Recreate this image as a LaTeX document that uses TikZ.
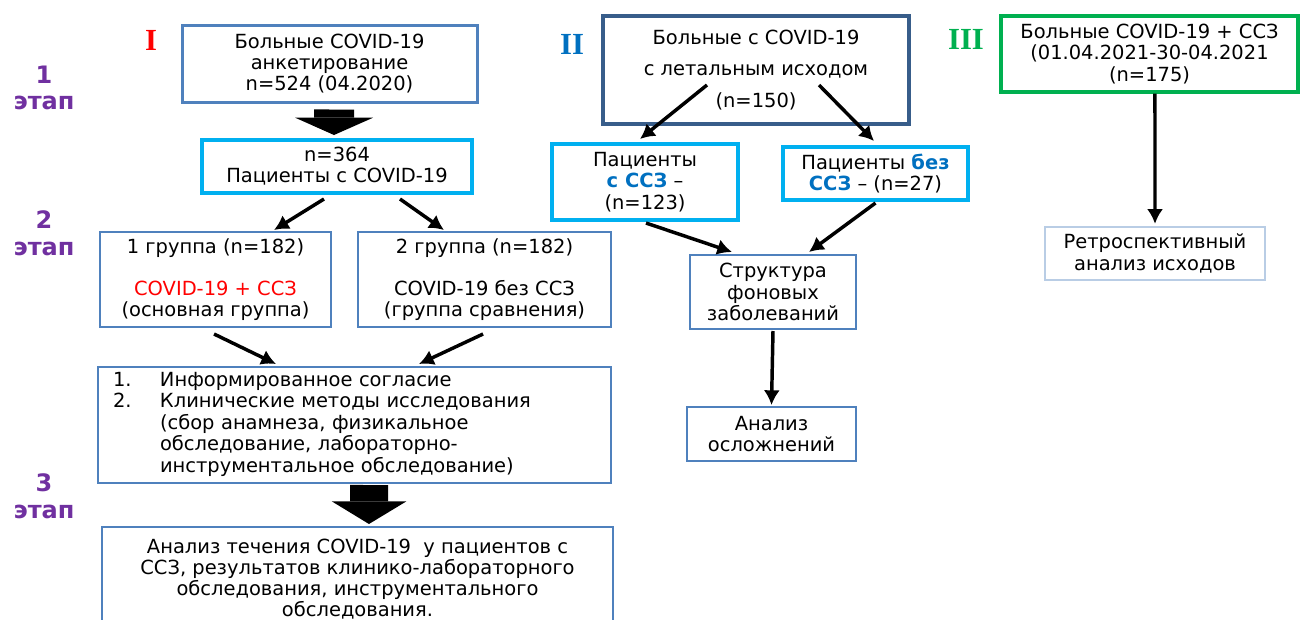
\documentclass[tikz,border=0pt]{standalone}
\usepackage{fontspec}
\setmainfont{DejaVu Sans}
\newfontfamily\romfont{Liberation Serif}
\usetikzlibrary{arrows.meta}
\definecolor{frameblue}{HTML}{4F81BD}
\definecolor{cyanframe}{HTML}{00B0F0}
\definecolor{slateframe}{HTML}{385D8A}
\definecolor{greenframe}{HTML}{00B050}
\definecolor{paleframe}{HTML}{B9CDE5}
\definecolor{textred}{HTML}{FF0000}
\definecolor{textblue}{HTML}{0070C0}
\definecolor{stagepurple}{HTML}{7030A0}
\newcommand\boxfont{\fontsize{14.6}{15.9}\selectfont}

\begin{document}
\begin{tikzpicture}[x=0.75pt,y=-0.75pt,
  box/.style={draw=frameblue, line width=1.5pt, align=center, inner sep=0pt, font=\boxfont},
  cyanbox/.style={box, draw=cyanframe, line width=3pt},
  arr/.style={line width=2.6pt, -{Latex[length=11pt,width=12pt]}},
  bigarr/.style={line width=30pt, -{Triangle[width=58.5pt,length=13pt,line width=0pt]}},
  stage/.style={align=center, text=stagepurple, font=\fontsize{18}{20}\selectfont\bfseries},
  roman/.style={font=\romfont\fontsize{23}{26}\selectfont\bfseries}]
\useasboundingbox (0,0) rectangle (1300,619);
\clip (0,0) rectangle (1300,619);

\node[stage] (st1) at (44,88) {1\\этап};
\node[stage] (st2) at (44,233) {2\\этап};
\node[stage] (st3) at (44,496) {3\\этап};

\node[roman, text=textred] (r1) at (151,40) {I};
\node[roman, text=textblue] (r2) at (572,44) {II};
\node[roman, text=greenframe] (r3) at (966,39) {III};

% group I
\node[box, line width=2.25pt, minimum width=221.25pt, minimum height=57.75pt] (survey) at (329.5,63.5)
  {Больные COVID-19\\анкетирование\\n=524 (04.2020)};
\node[cyanbox, minimum width=202.5pt, minimum height=39.75pt] (pat) at (337,166.5)
  {n=364\\Пациенты с COVID-19};
\node[box, minimum width=173.25pt, minimum height=71.25pt] (grp1) at (215.5,279.5)
  {1 группа (n=182)\\[15.9pt]{\color{textred}COVID-19 + ССЗ}\\(основная группа)};
\node[box, minimum width=189.75pt, minimum height=71.25pt] (grp2) at (484.5,279.5)
  {2 группа (n=182)\\[15.9pt]COVID-19 без ССЗ\\(группа сравнения)};
\node[box, minimum width=384.75pt, minimum height=87pt, text width=362.25pt, inner xsep=11.25pt, align=left] (methods) at (354.5,425)
  {\begin{tabular}{@{}p{35.25pt}@{}l@{}}
  1. & Информированное согласие\\
  2. & Клинические методы исследования\\
     & (сбор анамнеза, физикальное\\
     & обследование, лабораторно-\\
     & инструментальное обследование)
  \end{tabular}};
\node[box, minimum width=383.25pt, minimum height=78pt] (course) at (357.5,579)
  {Анализ течения COVID-19~ у пациентов с\\ССЗ, результатов клинико-лабораторного\\обследования, инструментального\\обследования.};

\draw[bigarr] ([xshift=3.4pt,yshift=-4.5pt]survey.south) -- ([xshift=-2.25pt,yshift=2.25pt]pat.north);
\draw[arr] ([xshift=-9.75pt,yshift=-3pt]pat.south) -- ([xshift=43.9pt,yshift=0.75pt]grp1.north);
\draw[arr] ([xshift=47.25pt,yshift=-3pt]pat.south) -- ([xshift=-30.4pt,yshift=0.75pt]grp2.north);
\draw[arr] ([xshift=-1.1pt,yshift=-4.5pt]grp1.south) -- ([xshift=-58.9pt,yshift=1.5pt]methods.north);
\draw[arr] ([xshift=-1.1pt,yshift=-4.5pt]grp2.south) -- ([xshift=48.4pt,yshift=1.5pt]methods.north);
\draw[bigarr, line width=28.5pt, -{Triangle[width=56pt,length=17pt,line width=0pt]}]
  ([xshift=10.9pt,yshift=-0.75pt]methods.south) -- ([xshift=8.6pt,yshift=1.5pt]course.north);

% group II
\node[box, draw=slateframe, line width=3pt, minimum width=229.5pt, minimum height=81pt] (lethal) at (756,70)
  {Больные с COVID-19\\[7.9pt]с летальным исходом\\[7.9pt](n=150)};
\node[cyanbox, minimum width=139.5pt, minimum height=57pt] (withssz) at (645,182)
  {Пациенты\\{\color{textblue}\bfseries с ССЗ} --\\(n=123)};
\node[cyanbox, minimum width=138.75pt, minimum height=39.75pt] (nossz) at (875.5,173.5)
  {Пациенты {\color{textblue}\bfseries без}\\{\color{textblue}\bfseries ССЗ} -- (n=27)};
\node[box, minimum width=124.5pt, minimum height=55.5pt] (struct) at (773,292)
  {Структура\\фоновых\\заболеваний};
\node[box, minimum width=126.75pt, minimum height=40.5pt] (compl) at (771.5,434)
  {Анализ\\осложнений};

\draw[arr] ([xshift=-36.75pt,yshift=-11.25pt]lethal.center) -- ([xshift=-3.75pt,yshift=2.25pt]withssz.north);
\draw[arr] ([xshift=47.25pt,yshift=-11.25pt]lethal.center) -- ([xshift=-1.1pt,yshift=3pt]nossz.north);
\draw[arr] ([xshift=0.75pt,yshift=-0.75pt]withssz.south) -- ([xshift=-30.75pt,yshift=1.5pt]struct.north);
\draw[arr] ([yshift=-0.75pt]nossz.south) -- ([xshift=27pt,yshift=1.5pt]struct.north);
\draw[arr] ([yshift=-0.75pt]struct.south) -- ([yshift=0.75pt]compl.north);

% group III
\node[box, draw=greenframe, line width=2.6pt, minimum width=222.75pt, minimum height=57pt] (ret) at (1149.5,54)
  {Больные COVID-19 + ССЗ\\(01.04.2021-30-04.2021\\(n=175)};
\node[box, draw=paleframe, line width=1.8pt, minimum width=165pt, minimum height=39.75pt] (retro) at (1155,253.5)
  {Ретроспективный\\анализ исходов};

\draw[arr] ([xshift=4.1pt]ret.south) -- ([yshift=1.5pt]retro.north);
\end{tikzpicture}
\end{document}
